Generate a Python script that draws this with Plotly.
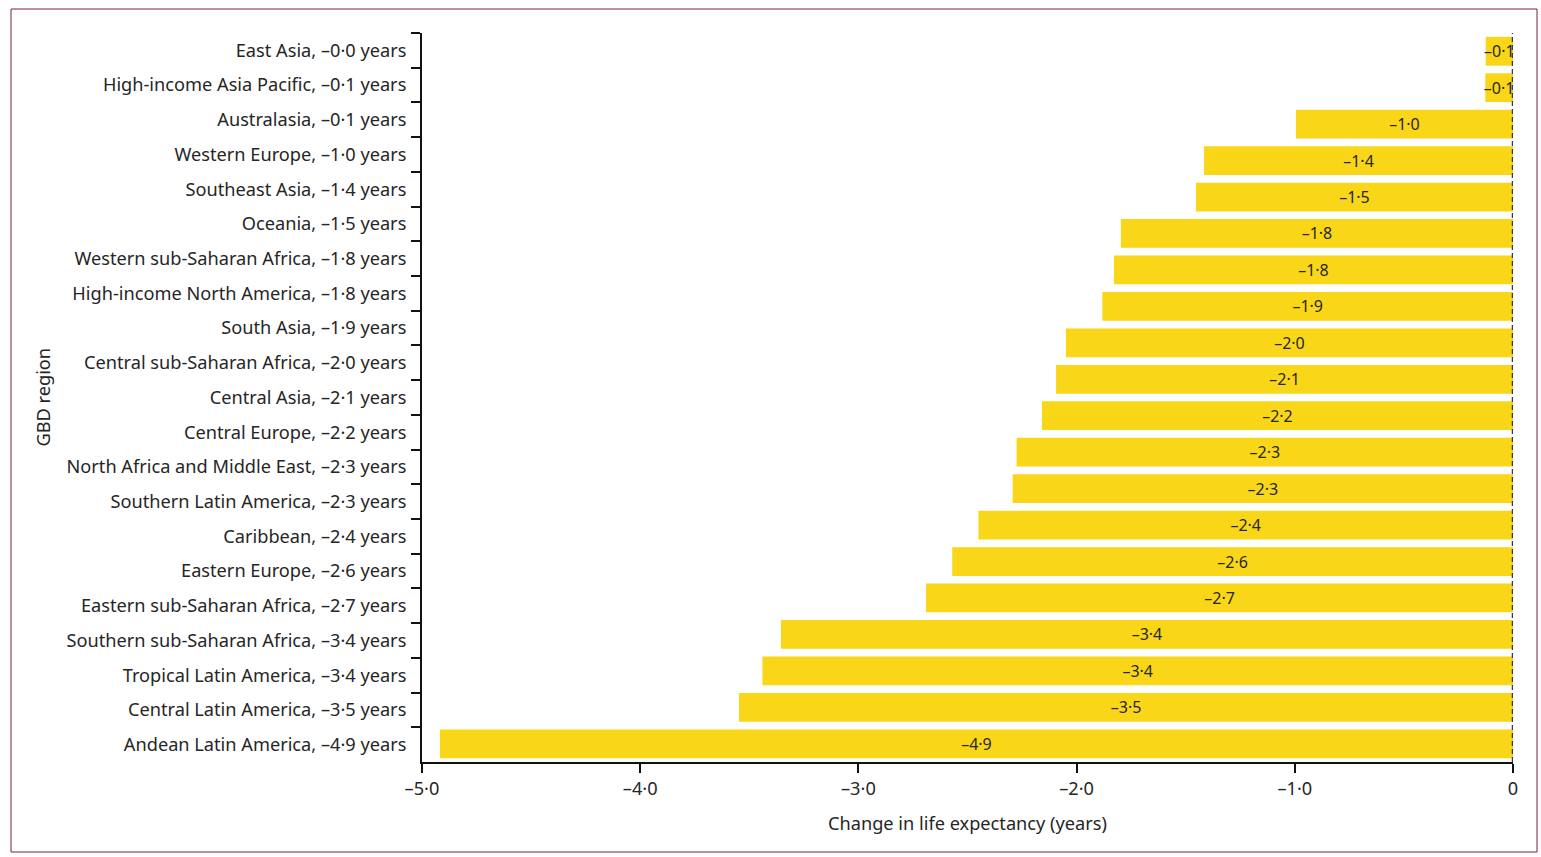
import plotly.graph_objects as go

# ---- data ----
region_labels = [
    "East Asia, –0·0 years",
    "High-income Asia Pacific, –0·1 years",
    "Australasia, –0·1 years",
    "Western Europe, –1·0 years",
    "Southeast Asia, –1·4 years",
    "Oceania, –1·5 years",
    "Western sub-Saharan Africa, –1·8 years",
    "High-income North America, –1·8 years",
    "South Asia, –1·9 years",
    "Central sub-Saharan Africa, –2·0 years",
    "Central Asia, –2·1 years",
    "Central Europe, –2·2 years",
    "North Africa and Middle East, –2·3 years",
    "Southern Latin America, –2·3 years",
    "Caribbean, –2·4 years",
    "Eastern Europe, –2·6 years",
    "Eastern sub-Saharan Africa, –2·7 years",
    "Southern sub-Saharan Africa, –3·4 years",
    "Tropical Latin America, –3·4 years",
    "Central Latin America, –3·5 years",
    "Andean Latin America, –4·9 years",
]

bar_values = [-0.125, -0.127, -0.995, -1.416, -1.453, -1.797, -1.829, -1.882,
              -2.049, -2.094, -2.159, -2.275, -2.293, -2.450, -2.570, -2.690,
              -3.355, -3.440, -3.547, -4.918]

bar_labels = ["–0·1", "–0·1", "–1·0", "–1·4", "–1·5", "–1·8", "–1·8", "–1·9",
              "–2·0", "–2·1", "–2·2", "–2·3", "–2·3", "–2·4", "–2·6", "–2·7",
              "–3·4", "–3·4", "–3·5", "–4·9"]

x_tickvals = [-5, -4, -3, -2, -1, 0]
x_ticktext = ["–5·0", "–4·0", "–3·0", "–2·0", "–1·0", "0"]

FONT = "Noto Sans"
TXT = "#262626"
FS = 18.2
W, H = 1541, 857
L, R, T, B = 422, 28, 33, 95
PW, PH = W - L - R, H - T - B

def px_x(px):
    return (px - L) / PW

def px_y(py):
    return (H - B - py) / PH

fig = go.Figure()

# invisible trace carrying the category axis
fig.add_trace(go.Scatter(
    x=[0] * len(region_labels), y=region_labels, mode="markers",
    marker=dict(opacity=0, size=1), showlegend=False, hoverinfo="skip",
    xaxis="x", yaxis="y"))

fig.add_trace(go.Bar(
    x=bar_values, y=list(range(len(bar_values))), orientation="h",
    marker=dict(color="#F9D617", line=dict(width=0)),
    width=0.79, text=bar_labels, textposition="inside",
    insidetextanchor="middle", textangle=0,
    textfont=dict(family=FONT, size=16, color=TXT),
    showlegend=False, xaxis="x", yaxis="y2"))

n_cat = len(region_labels)
fig.update_layout(
    width=W, height=H,
    margin=dict(l=L, r=R, t=T, b=B, autoexpand=False),
    paper_bgcolor="white", plot_bgcolor="white",
    font=dict(family=FONT, color=TXT),
    uniformtext=dict(minsize=16, mode="show"),
    xaxis=dict(range=[-5, 0], tickmode="array", tickvals=x_tickvals,
               ticktext=x_ticktext, ticks="outside", ticklen=9, tickwidth=2,
               tickcolor="#111", showline=True, linewidth=2, linecolor="#111",
               showgrid=False, zeroline=False, ticklabelstandoff=0,
               tickfont=dict(family=FONT, size=FS, color=TXT)),
    yaxis=dict(type="category", categoryorder="array",
               categoryarray=region_labels, range=[n_cat - 0.5, -0.5],
               ticks="outside", tickson="boundaries", ticklen=9, tickwidth=2,
               tickcolor="#111", showline=True, linewidth=2, linecolor="#111",
               showgrid=False, zeroline=False, ticklabelstandoff=10,
               tickfont=dict(family=FONT, size=FS, color=TXT)),
    yaxis2=dict(overlaying="y", range=[len(bar_values) - 0.5, -0.5],
                visible=False, showgrid=False, zeroline=False),
    shapes=[
        dict(type="line", xref="x", yref="paper", x0=0, x1=0, y0=0, y1=1,
             line=dict(color="#2f3b55", width=2.5, dash="5px,3px"), layer="above"),
        dict(type="rect", xref="paper", yref="paper",
             x0=px_x(11), x1=px_x(1537), y0=px_y(852), y1=px_y(9),
             line=dict(color="#7a1f4f", width=1), fillcolor="rgba(0,0,0,0)"),
    ],
    annotations=[
        dict(text="GBD region", xref="paper", yref="paper", x=px_x(42),
             y=0.5, textangle=-90, showarrow=False, xanchor="center",
             yanchor="middle", font=dict(family=FONT, size=FS, color=TXT)),
        dict(text="Change in life expectancy (years)", xref="paper",
             yref="paper", x=0.5, y=px_y(823), showarrow=False,
             xanchor="center", yanchor="middle",
             font=dict(family=FONT, size=FS, color=TXT)),
    ],
)

fig.write_html("out.html", config={"displayModeBar": False},
               post_script="document.body.style.margin='0';document.body.style.overflow='hidden';")
